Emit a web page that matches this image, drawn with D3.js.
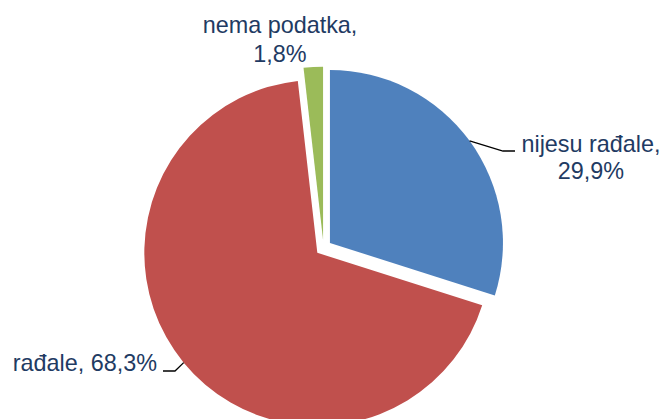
<!DOCTYPE html>
<html><head><meta charset="utf-8">
<script src="https://cdn.jsdelivr.net/npm/d3@7"></script>
<style>html,body{margin:0;padding:0;background:#fff;}svg{display:block;}</style>
</head><body>
<svg id="c" width="664" height="419"></svg>
<script>
const categories = ["nijesu rađale", "rađale", "nema podatka"];
const values = [29.9, 68.3, 1.8];
const valueLabels = ["29,9%", "68,3%", "1,8%"];
const colors = ["#4F81BD", "#C0504D", "#9BBB59"];

const svg = d3.select("#c");
const cx = 323.5, cy = 247.7, R = 173, explode = 8;
const pie = d3.pie().sort(null).value(d => d)(values);
const arc = d3.arc().innerRadius(0).outerRadius(R);
const g = svg.append("g").attr("transform", `translate(${cx},${cy})`);

function offset(d){
  const a = (d.startAngle + d.endAngle) / 2;
  return [Math.sin(a) * explode, -Math.cos(a) * explode];
}
function rim(d){
  const a = (d.startAngle + d.endAngle) / 2;
  const o = offset(d);
  return [o[0] + Math.sin(a) * R, o[1] - Math.cos(a) * R];
}

g.selectAll("path.slice").data(pie).enter().append("path")
  .attr("class", "slice")
  .attr("d", arc)
  .attr("fill", (d, i) => colors[i])
  .attr("transform", d => `translate(${offset(d)})`);

const textColor = "#1F3B63";
const font = "Liberation Sans, Arial, sans-serif";

// leader lines
const lp = [
  { i: 0, mid: [503 - cx, 151 - cy], end: [515 - cx, 151 - cy] },
  { i: 1, mid: [175 - cx, 371 - cy], end: [163 - cx, 371 - cy] }
];
lp.forEach(l => {
  const s = rim(pie[l.i]);
  g.append("polyline")
    .attr("points", [s, l.mid, l.end].map(p => p.join(",")).join(" "))
    .attr("fill", "none").attr("stroke", "#000").attr("stroke-width", 1.3);
});

function label(lines, x, y, anchor, lh){
  const t = svg.append("text").attr("font-family", font).attr("font-size", 23.4)
    .attr("fill", textColor).attr("text-anchor", anchor);
  lines.forEach((s, k) => t.append("tspan").attr("x", x).attr("y", y + k * lh).text(s));
}
label([categories[2] + ",", valueLabels[2]], 280, 33, "middle", 29);
label([categories[0] + ",", valueLabels[0]], 591, 152, "middle", 26.5);
label([categories[1] + ", " + valueLabels[1]], 157, 371, "end", 0);
</script>
</body></html>
